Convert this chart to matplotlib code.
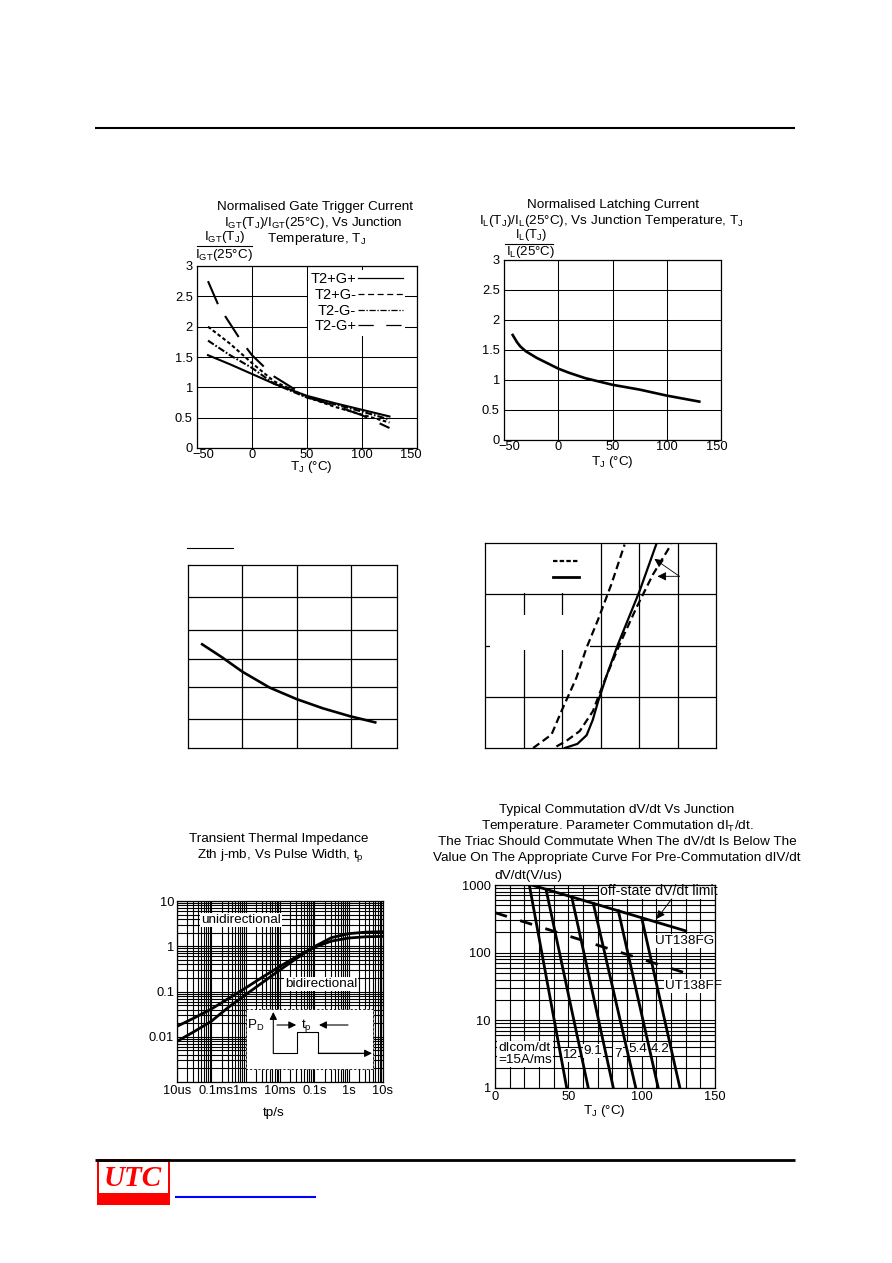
import numpy as np
import matplotlib
matplotlib.use("Agg")
import matplotlib.pyplot as plt
import matplotlib.transforms as mtransforms
from matplotlib.patches import Rectangle
from matplotlib.lines import Line2D
from matplotlib.ticker import LogLocator, NullFormatter, FixedLocator

plt.rcParams['font.family'] = ['Liberation Sans', 'DejaVu Sans']
plt.rcParams['mathtext.fontset'] = 'custom'
plt.rcParams['mathtext.rm'] = 'Liberation Sans'
plt.rcParams['mathtext.it'] = 'Liberation Sans:italic'
plt.rcParams['mathtext.bf'] = 'Liberation Sans:bold'
plt.rcParams['lines.scale_dashes'] = False
plt.rcParams['font.size'] = 9.7

W, H = 892, 1263
TXT = 9.7
TICK = 9.3

# ---------------- data ----------------
# Chart 1: normalised gate trigger current vs Tj
igt_temp = [-40, -20, 0, 20, 50, 75, 100, 125]
igt_t2p_gp = [1.53, 1.38, 1.22, 1.06, 0.86, 0.74, 0.63, 0.52]
igt_t2p_gm = [2.00, 1.72, 1.40, 1.10, 0.84, 0.68, 0.55, 0.42]
igt_t2m_gm = [1.77, 1.53, 1.32, 1.06, 0.83, 0.72, 0.60, 0.47]
igt_t2m_gp_temp = [-40, -30, -20, -10, 0, 20, 50, 75, 100, 125]
igt_t2m_gp = [2.75, 2.33, 2.05, 1.77, 1.53, 1.18, 0.84, 0.70, 0.54, 0.33]
igt_labels = ['T2+G+', 'T2+G-', 'T2-G-', 'T2-G+']

# Chart 2: normalised latching current vs Tj
il_temp = [-42, -38, -35, -30, -20, -10, 0, 10, 25, 50, 75, 100, 130]
il_ratio = [1.75, 1.63, 1.56, 1.48, 1.37, 1.28, 1.19, 1.12, 1.03, 0.92, 0.84, 0.74, 0.64]

norm_xticks = [-50, 0, 50, 100, 150]
norm_yticks = [0, 0.5, 1, 1.5, 2, 2.5, 3]

# Chart 3: unlabeled normalised curve (labels blanked in source)
ih_temp = [-37, -19, 0, 25, 50, 74, 99, 122]
ih_ratio = [1.70, 1.49, 1.25, 0.99, 0.80, 0.65, 0.52, 0.42]
ih_xticks = [0, 50, 100]
ih_yticks = [0.48, 1.0, 1.46, 1.94, 2.47]

# Chart 4: unlabeled on-state characteristic (labels blanked in source)
vt_dash1 = [0.625, 0.863, 0.993, 1.187, 1.317, 1.467, 1.640, 1.813]
it_dash1 = [0.0, 2.6, 7.2, 13.7, 19.5, 25.0, 31.9, 39.7]
vt_solid = [1.036, 1.20, 1.32, 1.40, 1.467, 1.60, 1.726, 2.007, 2.223]
it_solid = [0.0, 0.8, 2.5, 5.5, 9.0, 15.0, 20.2, 30.6, 39.7]
vt_dash2 = [0.928, 1.058, 1.230, 1.402, 1.532, 1.748, 1.964, 2.179, 2.417]
it_dash2 = [0.3, 1.4, 3.3, 7.2, 12.4, 20.2, 27.3, 33.8, 39.7]
vt_xticks = [0.5, 1.0, 1.5, 2.0, 2.5]
it_yticks = [10, 20, 30]

# Chart 5: transient thermal impedance
zth_tp = [1e-5, 3.16e-5, 1e-4, 3.16e-4, 1e-3, 3.16e-3, 1e-2, 3.16e-2, 0.1, 0.316, 1, 3.16, 10]
zth_uni = [0.017, 0.026, 0.041, 0.07, 0.12, 0.21, 0.36, 0.60, 0.95, 1.30, 1.52, 1.62, 1.65]
zth_bi = [0.0079, 0.013, 0.022, 0.045, 0.085, 0.16, 0.30, 0.55, 0.98, 1.55, 1.90, 2.05, 2.10]
zth_xticks = [1e-5, 1e-4, 1e-3, 1e-2, 1e-1, 1, 10]
zth_xlabels = ['10us', '0.1ms', '1ms', '10ms', '0.1s', '1s', '10s']
zth_yticks = [0.01, 0.1, 1, 10]
zth_ylabels = ['0.01', '0.1', '1', '10']

# Chart 6: commutation dV/dt vs Tj
offstate_temp = [25, 130]
offstate_dvdt = [1000, 210]
ff_temp = [0, 130]
ff_dvdt = [390, 50]
dicom_labels = ['15', '12', '9.1', '7', '5.4', '4.2']
dicom_temp = [[23.4, 48.9], [34.8, 63.6], [52.3, 80.7], [67.0, 96.0], [84.1, 111.3], [100.0, 126.1]]
dicom_dvdt = [[1000, 1], [861, 1], [667, 1], [535, 1], [415, 1], [327, 1]]
dv_xticks = [0, 50, 100, 150]
dv_yticks = [1, 10, 100, 1000]

# ---------------- figure ----------------
fig = plt.figure(figsize=(W / 100, H / 100), dpi=100)


def add_ax(x0, y0, x1, y1):
    return fig.add_axes([x0 / W, 1 - y1 / H, (x1 - x0) / W, (y1 - y0) / H])


def P(x, y):
    return (x / W, 1 - y / H)


def ftext(x, y, s, **kw):
    kw.setdefault('ha', 'center')
    kw.setdefault('va', 'center')
    kw.setdefault('fontsize', TXT)
    fig.text(x / W, 1 - y / H, s, **kw)


def base_style(ax, lw_grid=0.75):
    ax.set_axisbelow(True)
    ax.grid(True, which='both', color='black', linewidth=lw_grid)
    ax.tick_params(which='both', length=0, labelsize=TICK)
    for s in ax.spines.values():
        s.set_linewidth(0.9)


def shift_xlabel(ax, idx, dx_px):
    lab = ax.get_xticklabels()[idx]
    lab.set_transform(lab.get_transform() +
                      mtransforms.ScaledTranslation(dx_px / 100, 0, fig.dpi_scale_trans))


def sub(s):
    return r'$_{\mathregular{' + s + '}}$'


white_box = dict(facecolor='white', edgecolor='none', pad=0.6)

# ---- Chart 1 ----
ax1 = add_ax(197, 266, 417, 448)
base_style(ax1)
ax1.set_xlim(-50, 150)
ax1.set_ylim(0, 3)
ax1.set_xticks(norm_xticks)
ax1.set_yticks(norm_yticks)
ax1.set_yticklabels([f'{v:g}' for v in norm_yticks])
ax1.tick_params(axis='x', pad=1)
ax1.tick_params(axis='y', pad=3)
shift_xlabel(ax1, 0, 6)
shift_xlabel(ax1, 4, -6)
ax1.plot(igt_temp, igt_t2p_gp, color='k', lw=1.5, zorder=3)
ax1.plot(igt_temp, igt_t2p_gm, color='k', lw=1.5, linestyle=(0, (2.6, 1.8)), zorder=3)
ax1.plot(igt_temp, igt_t2m_gm, color='k', lw=1.5, linestyle=(0, (5, 1.4, 1.2, 1.4)), zorder=3)
ax1.plot(igt_t2m_gp_temp, igt_t2m_gp, color='k', lw=1.5, linestyle=(0, (18, 10)), zorder=3)
leg_handles = [
    Line2D([], [], color='k', lw=0.9),
    Line2D([], [], color='k', lw=0.9, linestyle=(0, (4.3, 2.6))),
    Line2D([], [], color='k', lw=0.9, linestyle=(0, (4.5, 1.2, 1.0, 1.2))),
    Line2D([], [], color='k', lw=0.9, linestyle=(0, (11, 9))),
]
leg = ax1.legend(leg_handles, igt_labels, loc='upper right', markerfirst=False,
                 bbox_to_anchor=P(405, 270), bbox_transform=fig.transFigure,
                 borderaxespad=0, borderpad=0.15, handlelength=3.1, handletextpad=0.1,
                 labelspacing=0.12, fontsize=10.5, frameon=True, fancybox=False)
leg.get_frame().set_facecolor('white')
leg.get_frame().set_edgecolor('none')
leg.get_frame().set_alpha(1)

ftext(315, 207, 'Normalised Gate Trigger Current')
ftext(313, 223, 'I' + sub('GT') + '(T' + sub('J') + ')/I' + sub('GT') + '(25°C), Vs Junction')
ftext(317, 239, 'Temperature, T' + sub('J'))
ftext(225, 237, 'I' + sub('GT') + '(T' + sub('J') + ')')
ftext(224, 255, 'I' + sub('GT') + '(25°C)')
ftext(311, 467, 'T' + sub('J') + ' (°C)')

# ---- Chart 2 ----
ax2 = add_ax(504, 260, 721, 440)
base_style(ax2)
ax2.set_xlim(-50, 150)
ax2.set_ylim(0, 3)
ax2.set_xticks(norm_xticks)
ax2.set_yticks(norm_yticks)
ax2.set_yticklabels([f'{v:g}' for v in norm_yticks])
ax2.tick_params(axis='x', pad=1)
ax2.tick_params(axis='y', pad=3)
shift_xlabel(ax2, 0, 5)
shift_xlabel(ax2, 4, -4)
ax2.plot(il_temp, il_ratio, color='k', lw=1.9, zorder=3)

ftext(613, 205, 'Normalised Latching Current')
ftext(611, 221, 'I' + sub('L') + '(T' + sub('J') + ')/I' + sub('L') + '(25°C), Vs Junction Temperature, T' + sub('J'))
ftext(531, 235, 'I' + sub('L') + '(T' + sub('J') + ')', fontsize=9.3)
ftext(530, 251.5, 'I' + sub('L') + '(25°C)', fontsize=9.5)
ftext(612, 462, 'T' + sub('J') + ' (°C)')

# ---- Chart 3 ----
ax3 = add_ax(188, 565, 397, 748)
base_style(ax3, 0.9)
ax3.set_xlim(-50, 142)
ax3.set_ylim(0, 3)
ax3.set_xticks(ih_xticks)
ax3.set_yticks(ih_yticks)
ax3.set_xticklabels([])
ax3.set_yticklabels([])
ax3.plot(ih_temp, ih_ratio, color='k', lw=1.9, zorder=3)

# ---- Chart 4 ----
ax4 = add_ax(485, 543, 716, 748)
base_style(ax4, 0.9)
ax4.set_xlim(0, 3)
ax4.set_ylim(0, 40)
ax4.set_xticks(vt_xticks)
ax4.set_yticks(it_yticks)
ax4.set_xticklabels([])
ax4.set_yticklabels([])
ax4.add_patch(Rectangle((0.0, 30.3), 1.44, 9.7, facecolor='white', edgecolor='none', zorder=1))
ax4.add_patch(Rectangle((0.07, 19.2), 1.29, 6.8, facecolor='white', edgecolor='none', zorder=1))
ax4.plot(vt_dash1, it_dash1, color='k', lw=1.6, linestyle=(0, (5.5, 3)), zorder=3)
ax4.plot(vt_solid, it_solid, color='k', lw=1.6, zorder=3)
ax4.plot(vt_dash2, it_dash2, color='k', lw=1.6, linestyle=(0, (5.5, 3)), zorder=3)
leg4 = ax4.legend([Line2D([], [], color='k', lw=1.6, linestyle=(0, (3.2, 1.6))),
                   Line2D([], [], color='k', lw=2.0)], [' ', ' '],
                  loc='upper left', bbox_to_anchor=P(553, 556), bbox_transform=fig.transFigure,
                  borderaxespad=0, borderpad=0, handlelength=2.1, handletextpad=0,
                  labelspacing=0.35, frameon=False, fontsize=9)
ax4.annotate('', xy=(2.20, 36.9), xytext=(2.525, 33.5),
             arrowprops=dict(arrowstyle='-|>', color='k', lw=0.6, mutation_scale=13,
                             shrinkA=0, shrinkB=0), zorder=4)
ax4.annotate('', xy=(2.24, 33.5), xytext=(2.525, 33.5),
             arrowprops=dict(arrowstyle='-|>', color='k', lw=0.6, mutation_scale=13,
                             shrinkA=0, shrinkB=0), zorder=4)

# ---- Chart 5 ----
ax5 = add_ax(177, 901, 383, 1082)
ax5.set_xscale('log')
ax5.set_yscale('log')
ax5.set_xlim(1e-5, 10)
ax5.set_ylim(1e-3, 10)
base_style(ax5, 0.8)
ax5.xaxis.set_major_locator(FixedLocator(zth_xticks))
ax5.xaxis.set_minor_locator(LogLocator(base=10, subs=np.arange(2, 10), numticks=20))
ax5.xaxis.set_minor_formatter(NullFormatter())
ax5.set_xticklabels(zth_xlabels)
ax5.yaxis.set_major_locator(FixedLocator([1e-3] + zth_yticks))
ax5.yaxis.set_minor_locator(LogLocator(base=10, subs=np.arange(2, 10), numticks=20))
ax5.yaxis.set_minor_formatter(NullFormatter())
ax5.set_yticklabels([''] + zth_ylabels)
ax5.tick_params(axis='x', pad=2)
ax5.tick_params(axis='y', pad=2)
shift_xlabel(ax5, 1, 5)
ax5.plot(zth_tp, zth_uni, color='k', lw=2.0, zorder=3)
ax5.plot(zth_tp, zth_bi, color='k', lw=2.0, zorder=3)
ax5.text(*P(241, 920), 'unidirectional', transform=fig.transFigure, ha='center', va='center',
         fontsize=TXT, bbox=white_box, zorder=2.5)
ax5.text(*P(321, 984), 'bidirectional', transform=fig.transFigure, ha='center', va='center',
         fontsize=TXT, bbox=white_box, zorder=2.5)

ftext(279, 839, 'Transient Thermal Impedance')
ftext(280, 856, 'Zth j-mb, Vs Pulse Width, t' + sub('p'))
ftext(274, 1113, 'tp/s')

# ---- Chart 6 ----
ax6 = add_ax(495, 885, 715, 1088)
ax6.set_yscale('log')
ax6.set_xlim(0, 150)
ax6.set_ylim(1, 1000)
base_style(ax6, 0.8)
ax6.set_xticks(dv_xticks)
ax6.xaxis.set_minor_locator(FixedLocator(list(range(10, 150, 10))))
ax6.yaxis.set_major_locator(FixedLocator(dv_yticks))
ax6.set_yticklabels([str(v) for v in dv_yticks])
ax6.yaxis.set_minor_locator(LogLocator(base=10, subs=np.arange(2, 10), numticks=20))
ax6.yaxis.set_minor_formatter(NullFormatter())
ax6.tick_params(axis='x', pad=2)
ax6.tick_params(axis='y', pad=3)
ax6.plot(offstate_temp, offstate_dvdt, color='k', lw=2.0, zorder=3)
ax6.plot(ff_temp, ff_dvdt, color='k', lw=2.0, linestyle=(0, (9, 10)), zorder=3)
for tt, vv in zip(dicom_temp, dicom_dvdt):
    ax6.plot(tt, vv, color='k', lw=2.0, zorder=3)
ax6.annotate('', xy=(110.2, 316), xytext=(120.5, 622),
             arrowprops=dict(arrowstyle='-|>', color='k', lw=0.7, mutation_scale=12,
                             shrinkA=0, shrinkB=0), zorder=4)
ax6.text(*P(659, 891), 'off-state dV/dt limit', transform=fig.transFigure, ha='center',
         va='center', fontsize=10.2, bbox=white_box, zorder=2.5)
ax6.text(*P(685, 941), 'UT138FG', transform=fig.transFigure, ha='center', va='center',
         fontsize=TXT, bbox=white_box, zorder=2.5)
ax6.text(*P(693, 986), 'UT138FF', transform=fig.transFigure, ha='center', va='center',
         fontsize=TXT, bbox=white_box, zorder=2.5)
ax6.text(*P(498, 1054), 'dIcom/dt\n=15A/ms', transform=fig.transFigure, ha='left',
         va='center', fontsize=TXT, linespacing=1.1, bbox=white_box, zorder=2.5)
lab_pos = [(570, 1055), (593, 1051), (618, 1054), (637.5, 1049), (660, 1049)]
for (px, py), lab in zip(lab_pos, dicom_labels[1:]):
    ax6.text(*P(px, py), lab, transform=fig.transFigure, ha='center', va='center',
             fontsize=TXT, bbox=white_box, zorder=2.5)

ftext(617, 810, 'Typical Commutation dV/dt Vs Junction')
ftext(617, 826, 'Temperature. Parameter Commutation dI' + sub('T') + '/dt.')
ftext(617, 842, 'The Triac Should Commutate When The dV/dt Is Below The')
ftext(617, 858, 'Value On The Appropriate Curve For Pre-Commutation dIV/dt')
ftext(528, 876, 'dV/dt(V/us)')
ftext(604, 1111, 'T' + sub('J') + ' (°C)')

# ---------------- page decorations (pixel coordinates) ----------------
page = fig.add_axes([0, 0, 1, 1], zorder=20)
page.set_xlim(0, W)
page.set_ylim(H, 0)
page.axis('off')
page.patch.set_alpha(0)

page.plot([95, 795], [128, 128], color='k', lw=1.5, solid_capstyle='butt')
page.plot([95, 795], [1160, 1160], color='k', lw=2.0, solid_capstyle='butt')
# fraction bars
page.plot([197, 252], [245.5, 245.5], color='k', lw=0.8)
page.plot([505, 553], [244, 244], color='k', lw=0.8)
page.plot([187, 233], [547.5, 547.5], color='k', lw=0.8)

# pulse inset in chart 5
page.add_patch(Rectangle((246, 1009), 126.7, 60, facecolor='white', edgecolor='k', lw=0.6,
                         linestyle=(0, (1.5, 1.5))))
page.plot([273.3, 296.7, 296.7, 318.3, 318.3, 366], [1053.3, 1053.3, 1031.7, 1031.7, 1053.3, 1053.3],
          color='k', lw=0.8)
arw = dict(arrowstyle='-|>', color='k', lw=0.8, mutation_scale=11, shrinkA=0, shrinkB=0)
page.annotate('', xy=(273.3, 1012), xytext=(273.3, 1053.3), arrowprops=arw)
page.annotate('', xy=(372, 1053.3), xytext=(318.3, 1053.3), arrowprops=arw)
page.annotate('', xy=(296.2, 1025), xytext=(277, 1025), arrowprops=arw)
page.annotate('', xy=(319, 1025), xytext=(348, 1025), arrowprops=arw)
page.text(256, 1025, 'P' + sub('D'), ha='center', va='center', fontsize=TXT)
page.text(306.5, 1025, 't' + sub('p'), ha='center', va='center', fontsize=TXT)

# UTC logo
page.add_patch(Rectangle((96.7, 1159), 73.3, 46, facecolor='#ff0000', edgecolor='none'))
page.add_patch(Rectangle((98.5, 1161.5), 69.5, 31.5, facecolor='white', edgecolor='none'))
page.text(133, 1178, 'UTC', ha='center', va='center', fontsize=21, color='#ff0000',
          family='Liberation Serif', style='italic', weight='bold')
page.plot([175, 316], [1196.5, 1196.5], color='#0000ff', lw=1.5, solid_capstyle='butt')

fig.savefig('out.png', dpi=100)
